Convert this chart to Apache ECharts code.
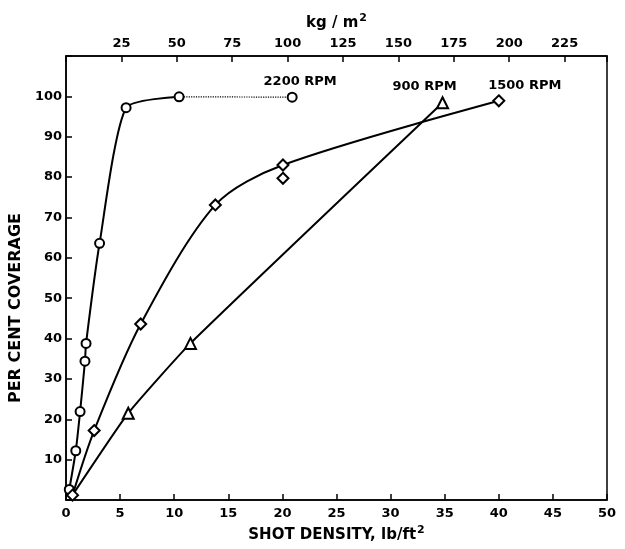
<!DOCTYPE html>
<html>
<head>
<meta charset="utf-8">
<script src="https://cdn.jsdelivr.net/npm/echarts@6/dist/echarts.min.js"></script>
<style>html,body{margin:0;padding:0;background:#fff}#c{width:625px;height:549px}</style>
</head>
<body>
<div id="c"></div>
<script>
// ---- data (x: shot density lb/ft^2, y: per cent coverage) ----
const rpm2200X = [0.3, 0.9, 1.3, 1.75, 1.85, 3.1, 5.55, 10.45];
const rpm2200Y = [2.6, 12.2, 21.9, 34.4, 38.8, 63.6, 97.2, 99.9];
const rpm2200TailX = [10.45, 20.9];
const rpm2200TailY = [99.9, 99.8];
const rpm1500X = [0.6, 2.6, 6.9, 13.8, 20.05, 40.0];
const rpm1500Y = [1.2, 17.2, 43.6, 73.1, 83.0, 98.9];
const rpm1500ExtraX = [20.05];
const rpm1500ExtraY = [79.7];
const rpm900X = [0.6, 5.75, 11.5, 34.8];
const rpm900Y = [1.2, 21.5, 38.8, 98.4];
const seriesNames = ['2200 RPM', '1500 RPM', '900 RPM'];
const bottomTicks = [0, 5, 10, 15, 20, 25, 30, 35, 40, 45, 50];
const topTicks = [25, 50, 75, 100, 125, 150, 175, 200, 225];
const yTicks = [10, 20, 30, 40, 50, 60, 70, 80, 90, 100];
const KG_PER_LB_FT2 = 4.8824;

const pts = (xs, ys) => xs.map((x, i) => [x, ys[i]]);
const FONT = 'DejaVu Sans';
const markerStyle = {color: '#fff', borderColor: '#000', borderWidth: 2, opacity: 1};
const lineStyle = {color: '#000', width: 2};
const rpmLabel = (text, offset) => ({show: true, position: 'inside', offset: offset, formatter: text,
  fontFamily: FONT, fontWeight: 'bold', fontSize: 13, color: '#000'});

const chart = echarts.init(document.getElementById('c'), null, {renderer: 'canvas'});
chart.setOption({
  backgroundColor: '#fff',
  animation: false,
  grid: {left: 66, right: 18, top: 56, bottom: 49, show: true, borderColor: '#000', borderWidth: 1.5},
  xAxis: [{
    type: 'value', min: 0, max: 50, interval: 5, position: 'bottom',
    name: 'SHOT DENSITY, lb/ft{s|2}', nameLocation: 'middle', nameGap: 24,
    nameTextStyle: {fontFamily: FONT, fontWeight: 'bold', fontSize: 15, color: '#000',
      rich: {s: {fontFamily: FONT, fontWeight: 'bold', fontSize: 11, color: '#000', verticalAlign: 'top', padding: [0, 0, 10, 1]}}},
    axisLine: {show: true, onZero: false, lineStyle: {color: '#000', width: 1.5}},
    axisTick: {show: true, inside: true, length: 6, lineStyle: {color: '#000', width: 1.5}},
    axisLabel: {fontFamily: FONT, fontWeight: 'bold', fontSize: 13, color: '#000', margin: 7,
      formatter: v => bottomTicks.includes(v) ? String(v) : ''},
    splitLine: {show: false}
  }, {
    type: 'value', min: 0, max: 50 * KG_PER_LB_FT2, interval: 25, position: 'top',
    name: 'kg / m{s|2}', nameLocation: 'middle', nameGap: 22,
    nameTextStyle: {fontFamily: FONT, fontWeight: 'bold', fontSize: 15, color: '#000',
      rich: {s: {fontFamily: FONT, fontWeight: 'bold', fontSize: 11, color: '#000', verticalAlign: 'top', padding: [0, 0, 10, 1]}}},
    axisLine: {show: true, onZero: false, lineStyle: {color: '#000', width: 1.5}},
    axisTick: {show: true, inside: true, length: 6, lineStyle: {color: '#000', width: 1.5}},
    axisLabel: {fontFamily: FONT, fontWeight: 'bold', fontSize: 13, color: '#000', margin: 6,
      formatter: v => topTicks.includes(Math.round(v)) ? String(Math.round(v)) : ''},
    splitLine: {show: false}
  }],
  yAxis: {
    type: 'value', min: 0, max: 110, interval: 10,
    name: 'PER CENT COVERAGE', nameLocation: 'middle', nameGap: 34,
    nameTextStyle: {fontFamily: FONT, fontWeight: 'bold', fontSize: 16, color: '#000', padding: [0, 60, 0, 0]},
    axisLine: {show: true, onZero: false, lineStyle: {color: '#000', width: 1.5}},
    axisTick: {show: true, inside: true, length: 6, lineStyle: {color: '#000', width: 1.5}},
    axisLabel: {fontFamily: FONT, fontWeight: 'bold', fontSize: 13, color: '#000', margin: 4,
      formatter: v => yTicks.includes(v) ? String(v) : ''},
    splitLine: {show: false}
  },
  series: [
    {
      name: seriesNames[0], type: 'line', xAxisIndex: 0, data: pts(rpm2200X, rpm2200Y),
      smooth: 0.2, symbol: 'circle', symbolSize: 9,
      itemStyle: markerStyle, lineStyle: lineStyle, z: 3
    },
    {
      name: seriesNames[0] + ' tail', type: 'line', xAxisIndex: 0,
      data: pts(rpm2200TailX, rpm2200TailY).map((p, i, a) => i === a.length - 1 ?
        {value: p, label: rpmLabel(seriesNames[0], [8, -16])} : {value: p, symbol: 'none'}),
      symbol: 'circle', symbolSize: 9, itemStyle: markerStyle,
      lineStyle: {color: '#000', width: 1.2, type: 'dotted'}, z: 3
    },
    {
      name: seriesNames[1], type: 'line', xAxisIndex: 0,
      data: pts(rpm1500X, rpm1500Y).map((p, i, a) => i === a.length - 1 ?
        {value: p, label: rpmLabel(seriesNames[1], [26, -15])} : p),
      smooth: 0.3, symbol: 'diamond', symbolSize: 11,
      itemStyle: markerStyle, lineStyle: lineStyle, z: 3
    },
    {
      name: seriesNames[1] + ' extra', type: 'scatter', xAxisIndex: 0,
      data: pts(rpm1500ExtraX, rpm1500ExtraY), symbol: 'diamond', symbolSize: 11,
      itemStyle: markerStyle, z: 3
    },
    {
      name: seriesNames[2], type: 'line', xAxisIndex: 0,
      data: pts(rpm900X, rpm900Y).map((p, i, a) => i === 0 ? {value: p, symbol: 'none'} :
        i === a.length - 1 ? {value: p, label: rpmLabel(seriesNames[2], [-18, -16])} : p),
      smooth: 0.15, symbol: 'triangle', symbolSize: 11,
      itemStyle: markerStyle, lineStyle: lineStyle, z: 2
    }
  ]
});
</script>
</body>
</html>
